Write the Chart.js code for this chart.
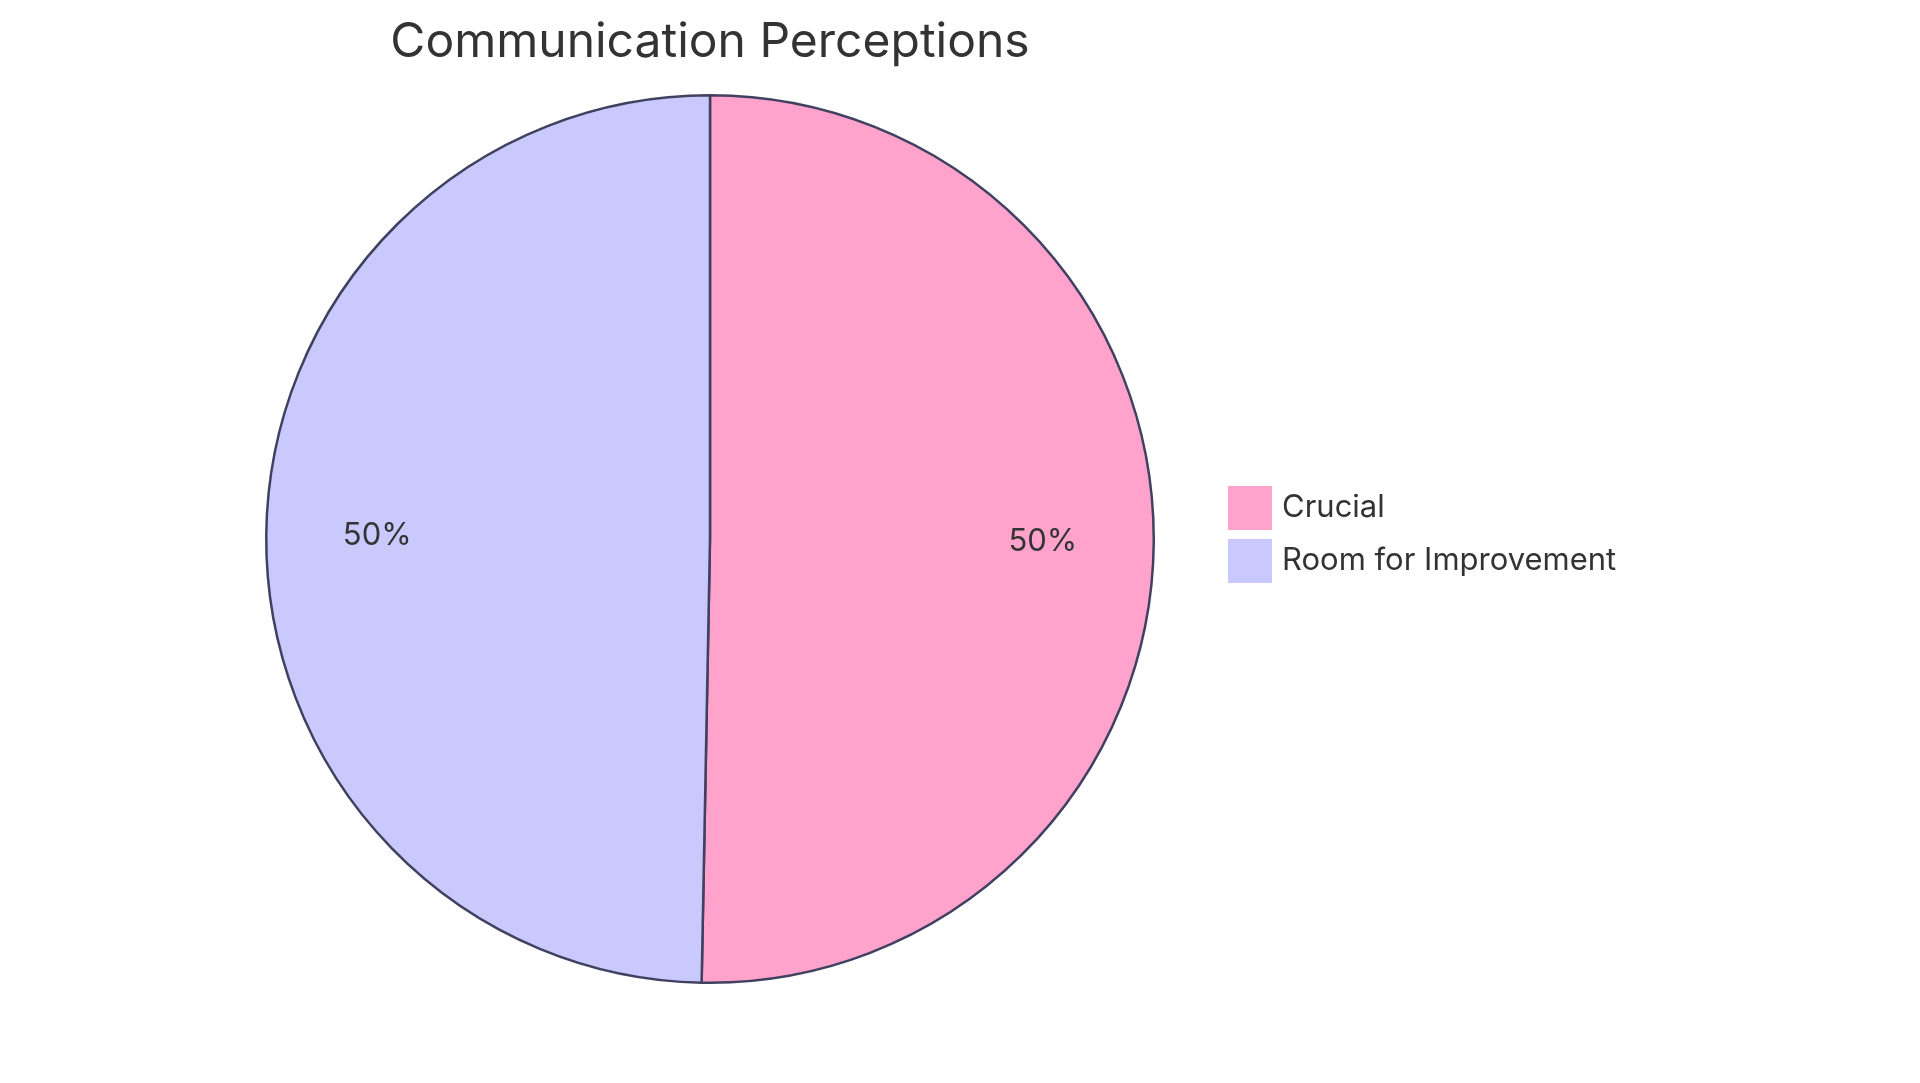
<!DOCTYPE html>
<html>
<head>
<meta charset="utf-8">
<script src="https://cdn.jsdelivr.net/npm/chart.js@4"></script>
<style>
  html, body { margin: 0; padding: 0; background: #fff; }
  #wrap { width: 1920px; height: 1083px; }
</style>
</head>
<body>
<div id="wrap"><canvas id="myChart" width="1920" height="1083"></canvas></div>
<script>
var labels = ['Crucial', 'Room for Improvement'];
var values = [50.3, 49.7];
var colors = ['#FFA3CC', '#C9C9FD'];
var chartTitle = 'Communication Perceptions';

var FONT = 'Inter, "Noto Sans", sans-serif';

// title, slice labels and legend drawn by hand
var extras = {
    id: 'extras',
    afterDraw: function (chart) {
        var c = chart.ctx;
        var meta = chart.getDatasetMeta(0);
        var total = values.reduce(function (a, b) { return a + b; }, 0);
        c.save();
        c.fillStyle = '#333333';
        c.textAlign = 'center';
        c.textBaseline = 'middle';
        c.font = '400 48px ' + FONT;
        var cx = meta.data[0].x;
        c.fillText(chartTitle, cx, 43);

        c.font = '400 31px ' + FONT;
        meta.data.forEach(function (arc, i) {
            var mid = (arc.startAngle + arc.endAngle) / 2;
            var r = arc.outerRadius * 0.75;
            var pct = Math.round(values[i] / total * 100) + '%';
            c.fillText(pct, arc.x + Math.cos(mid) * r, arc.y + Math.sin(mid) * r);
        });

        c.textAlign = 'left';
        labels.forEach(function (l, i) {
            var y = 508 + i * 53;
            c.fillStyle = colors[i];
            c.fillRect(1228, y - 22, 44, 44);
            c.fillStyle = '#333333';
            c.fillText(l, 1282, y);
        });
        c.restore();
    }
};

new Chart(document.getElementById('myChart'), {
    type: 'pie',
    data: {
        labels: labels,
        datasets: [{
            data: values,
            backgroundColor: colors,
            borderColor: '#404060',
            borderWidth: 2.5
        }]
    },
    options: {
        responsive: false,
        animation: false,
        layout: { padding: { top: 94, bottom: 99, left: 265, right: 765 } },
        plugins: {
            legend: { display: false },
            title: { display: false },
            tooltip: { enabled: false }
        }
    },
    plugins: [extras]
});
</script>
</body>
</html>
